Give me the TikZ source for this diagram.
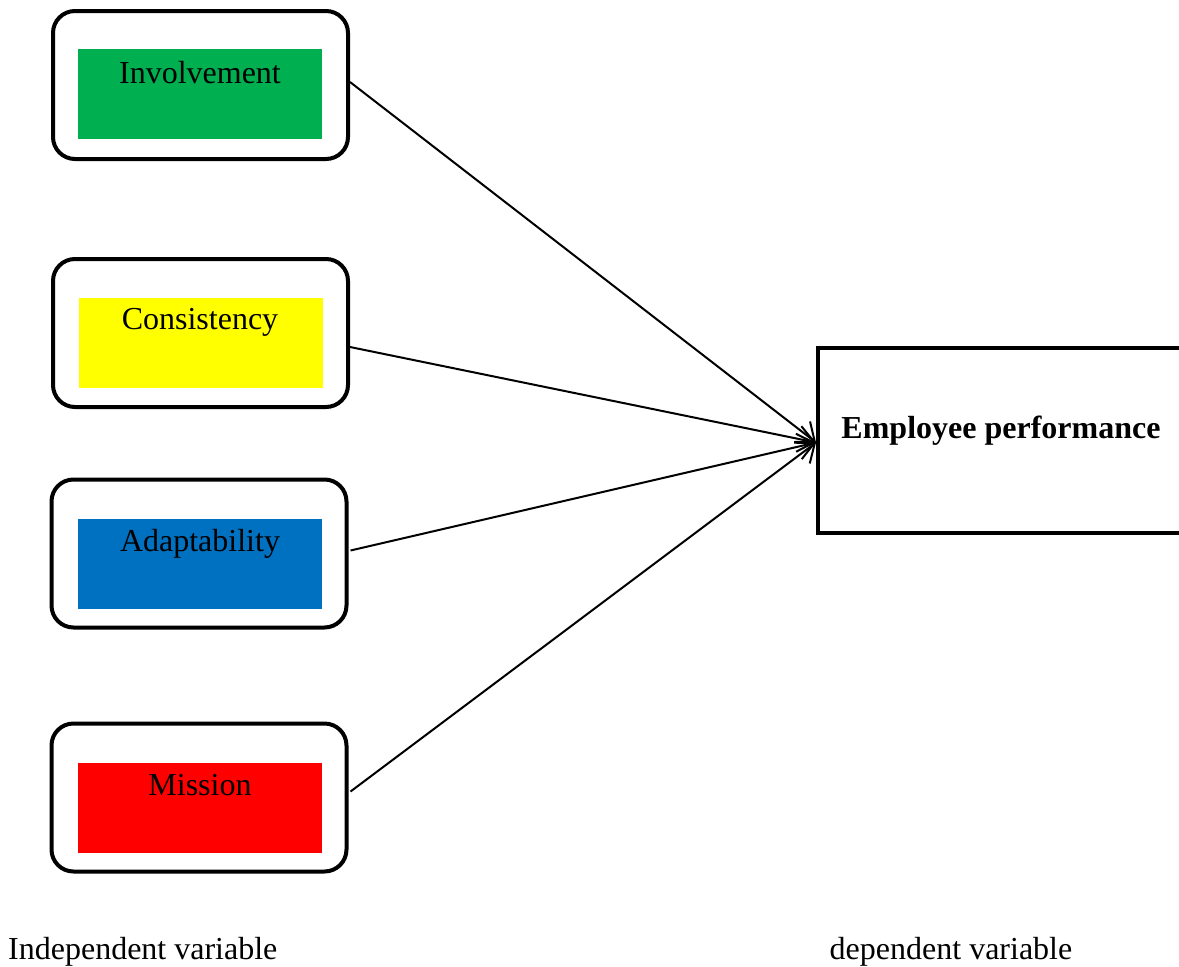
\documentclass[tikz,border=0pt]{standalone}
\usepackage{fontspec}
\setmainfont{Liberation Serif}
\usetikzlibrary{arrows.meta}
\definecolor{cgreen}{RGB}{0,176,80}
\definecolor{cyellow}{RGB}{255,255,0}
\definecolor{cblue}{RGB}{0,112,192}
\definecolor{cred}{RGB}{255,0,0}
\begin{document}
\begin{tikzpicture}[x=1pt,y=-1pt,
  outerbox/.style={draw=black,line width=4pt,rounded corners=22pt,minimum width=295pt,minimum height=148pt,inner sep=0pt},
  innerbox/.style={minimum width=244pt,minimum height=90pt,inner sep=0pt},
  lbl/.style={font=\fontsize{32}{38}\selectfont,inner sep=0pt},
  conn/.style={line width=2pt,-{Straight Barb[length=16pt,width=26pt,line width=2pt]}}]
\useasboundingbox (0,0) rectangle (1179,967);
\clip (0,0) rectangle (1179,967);
\fill[white] (0,0) rectangle (1179,967);
% boxes
\node[outerbox] (b1) at (200.5,85) {};
\node[innerbox,fill=cgreen] (i1) at (200,94) {};
\node[lbl] (t1) at (200,72.5) {Involvement};
\node[outerbox] (b2) at (200.5,333) {};
\node[innerbox,fill=cyellow] (i2) at (201,342.5) {};
\node[lbl] (t2) at (200,322.5) {Consistency};
\node[outerbox] (b3) at (199,553.5) {};
\node[innerbox,fill=cblue] (i3) at (199.5,563.5) {};
\node[lbl] (t3) at (200,543.5) {Adaptability};
\node[outerbox] (b4) at (199,797.5) {};
\node[innerbox,fill=cred] (i4) at (200,807.5) {};
\node[lbl] (t4) at (200,785.5) {Mission};
% dependent
\node[draw=black,line width=4pt,minimum width=380pt,minimum height=185pt,inner sep=0pt] (emp) at (1008,440.5) {};
\node[lbl,font=\fontsize{32}{38}\selectfont\bfseries] (et) at (1001,430.5) {Employee performance};
\coordinate (tip) at ([yshift=-2pt]emp.west);
% connectors
\draw[conn] ([yshift=3pt]b1.east) -- (tip);
\draw[conn] ([yshift=-14pt]b2.east) -- (tip);
\draw[conn] ([yshift=3pt,xshift=2pt]b3.east) -- (tip);
\draw[conn] ([yshift=6pt,xshift=2pt]b4.east) -- (tip);
% captions
\node[lbl,anchor=west] (c1) at (8,952) {Independent variable};
\node[lbl] (c2) at (951,952) {dependent variable};
\end{tikzpicture}
\end{document}
